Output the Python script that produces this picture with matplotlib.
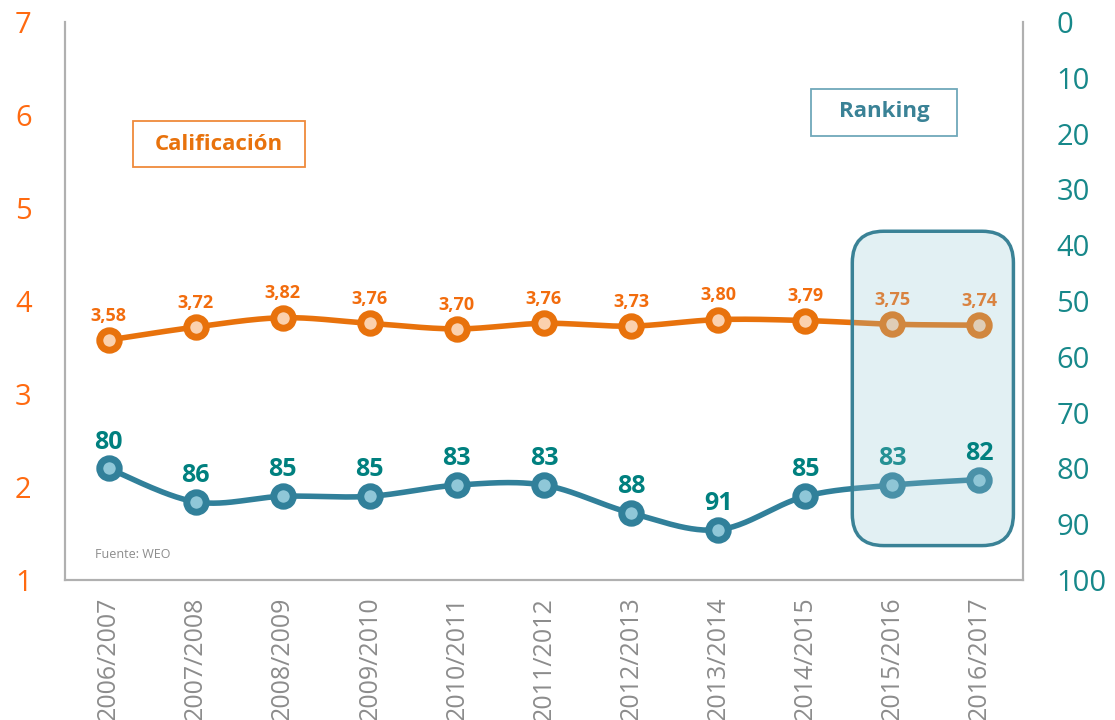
import numpy as np
import matplotlib.pyplot as plt
from matplotlib.patches import FancyBboxPatch, Rectangle

plt.rcParams['font.family'] = ['Open Sans', 'DejaVu Sans']

periodos = ['2006/2007', '2007/2008', '2008/2009', '2009/2010', '2010/2011', '2011/2012',
            '2012/2013', '2013/2014', '2014/2015', '2015/2016', '2016/2017']
calificacion = [3.58, 3.72, 3.82, 3.76, 3.70, 3.76, 3.73, 3.80, 3.79, 3.75, 3.74]
ranking = [80, 86, 85, 85, 83, 83, 88, 91, 85, 83, 82]

naranja = '#e8720c'
naranja_txt = '#f26c0d'
naranja_claro = '#fbd1ae'
azul = '#31809a'
azul_claro = '#8fc7d8'
verde = '#00807f'
gris = '#8c8c8c'


def suavizar(x, y, n=30):
    # bezier curve through the points, like a spreadsheet "smoothed line"
    x = np.asarray(x, float)
    y = np.asarray(y, float)
    xs, ys = [], []
    for i in range(len(x) - 1):
        i0 = max(i - 1, 0)
        i3 = min(i + 2, len(x) - 1)
        p0 = np.array([x[i], y[i]])
        p3 = np.array([x[i + 1], y[i + 1]])
        p1 = p0 + (p3 - np.array([x[i0], y[i0]])) / 6
        p2 = p3 - (np.array([x[i3], y[i3]]) - p0) / 6
        t = np.linspace(0, 1, n)[:, None]
        c = (1 - t) ** 3 * p0 + 3 * (1 - t) ** 2 * t * p1 + 3 * (1 - t) * t ** 2 * p2 + t ** 3 * p3
        xs.append(c[:, 0])
        ys.append(c[:, 1])
    return np.concatenate(xs), np.concatenate(ys)


fig = plt.figure(figsize=(11.15, 7.2), dpi=100)
ax = fig.add_axes([65 / 1115, 140 / 720, 958 / 1115, 558 / 720])
ax2 = ax.twinx()

x = np.arange(len(periodos))

# calificación (left axis)
sx, sy = suavizar(x, calificacion)
ax.plot(sx, sy, color=naranja, lw=4, zorder=3, solid_capstyle='round')
ax.plot(x, calificacion, 'o', ms=14, mfc=naranja_claro, mec=naranja, mew=5, zorder=4)
for xi, v in zip(x, calificacion):
    ax.annotate(f'{v:.2f}'.replace('.', ','), (xi, v), xytext=(0, 11), textcoords='offset points',
                ha='center', va='bottom', fontsize=13, fontweight='bold', color=naranja_txt, zorder=5)

ax.set_ylim(1, 7)
ax.set_xlim(-0.5, len(periodos) - 0.5)
ax.set_yticks(range(1, 8))
ax.tick_params(axis='y', length=0, labelsize=21, labelcolor='#ff6a10', pad=24)
ax.set_xticks(x)
ax.set_xticklabels(periodos, rotation=90, fontsize=18, color=gris)
ax.tick_params(axis='x', length=0, pad=12)

# ranking (right axis, inverted)
rx, ry = suavizar(x, ranking)
ax2.plot(rx, ry, color=azul, lw=4, zorder=3, solid_capstyle='round')
ax2.plot(x, ranking, 'o', ms=14, mfc=azul_claro, mec=azul, mew=5, zorder=4)
for xi, v in zip(x, ranking):
    ax2.annotate(str(v), (xi, v), xytext=(0, 10), textcoords='offset points',
                 ha='center', va='bottom', fontsize=18, fontweight='bold', color=verde,
                 zorder=7 if v == ranking[-1] else 5)
ax2.set_ylim(100, 0)
ax2.set_yticks(range(0, 101, 10))
ax2.tick_params(axis='y', length=0, labelsize=21, labelcolor='#17888a', pad=24)

for a in (ax, ax2):
    a.spines['top'].set_visible(False)
    for s in ('left', 'right', 'bottom'):
        a.spines[s].set_color('#b0b0b0')
        a.spines[s].set_linewidth(1.5)

# highlight box over the last two seasons (left-axis data units)
caja_xy = (8.54, 1.37)
caja_w, caja_h = 1.85, 3.38
for fc, ec, alpha in (('#92c5d4', 'none', 0.26), ('none', '#3a8296', 1)):
    p = FancyBboxPatch(caja_xy, caja_w, caja_h, boxstyle='round,pad=0,rounding_size=0.36',
                       mutation_aspect=0.94, transform=ax.transData,
                       facecolor=fc, edgecolor=ec, lw=2.5, alpha=alpha, zorder=6)
    ax2.add_patch(p)

# series titles
fig.patches.append(Rectangle((133 / 1115, 1 - 167 / 720), 172 / 1115, 46 / 720,
                             transform=fig.transFigure, fc='white', ec='#ef8a3c', lw=1.3))
fig.text(219 / 1115, 1 - 144 / 720, 'Calificación', ha='center', va='center', fontsize=16,
         fontweight='bold', color='#e8720c')
fig.patches.append(Rectangle((811 / 1115, 1 - 136 / 720), 146 / 1115, 47 / 720,
                             transform=fig.transFigure, fc='white', ec='#6fa8ba', lw=1.3))
fig.text(884 / 1115, 1 - 112 / 720, 'Ranking', ha='center', va='center', fontsize=16,
         fontweight='bold', color='#3a8296')

fig.text(95 / 1115, 1 - 554 / 720, 'Fuente: WEO', ha='left', va='center', fontsize=9, color=gris)

fig.savefig('out.png', dpi=100)
